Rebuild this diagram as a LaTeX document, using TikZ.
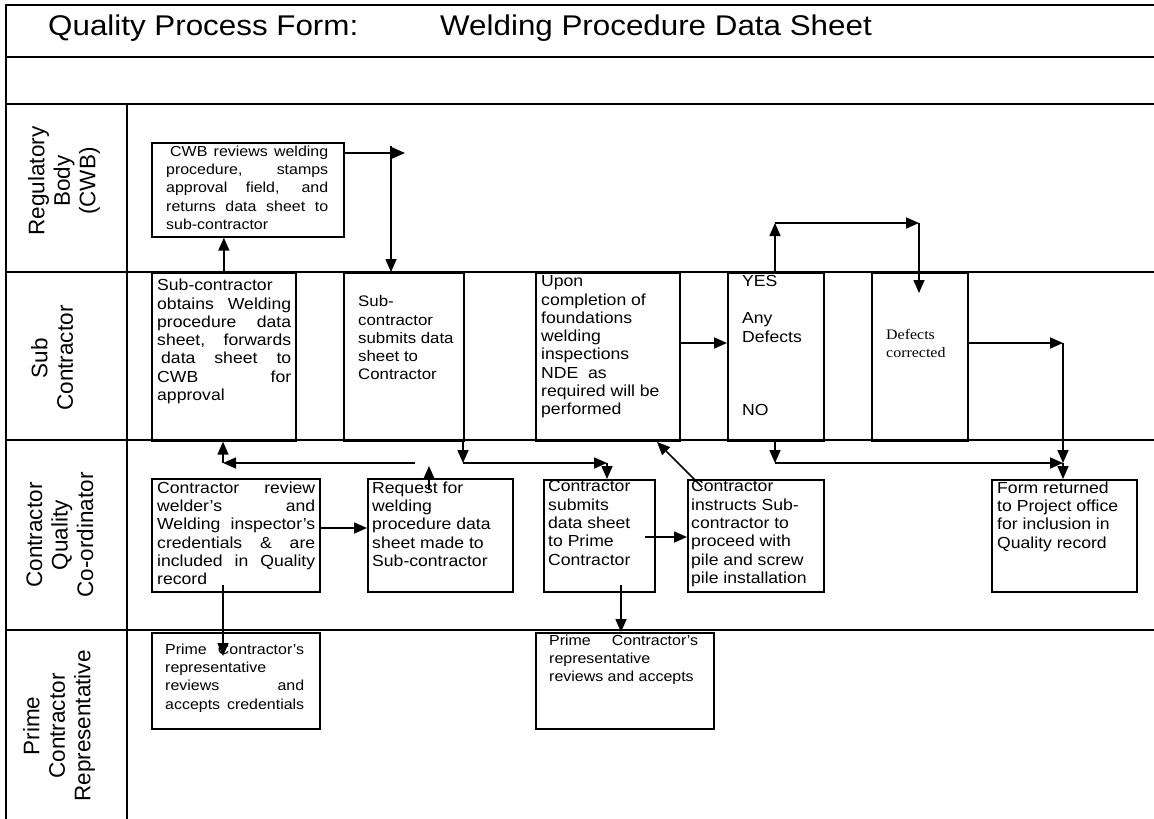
\documentclass[tikz,border=0pt]{standalone}
\usepackage{fontspec}
\setmainfont{Liberation Sans}
\newfontfamily\bodyfont{Liberation Sans}[FakeStretch=1.1]
\newfontfamily\serifbody{Liberation Serif}[FakeStretch=1.1]
\usetikzlibrary{arrows.meta}

\newcommand\bodytxt{\bodyfont\fontsize{16}{18.3}\selectfont}
\newcommand\smalltxt{\bodyfont\fontsize{14.5}{18.3}\selectfont}
\newcommand\midtxt{\bodyfont\fontsize{15.3}{18.3}\selectfont}
\newcommand\titletxt{\bodyfont\fontsize{28.5}{32}\selectfont}
\newcommand\lanetxt{\fontsize{22.5}{25.5}\selectfont}
\newcommand\serifbox{\serifbody\fontsize{14.5}{17.7}\selectfont}
% a line spread out to a given width
\newcommand\jst[2]{\makebox[#1][s]{#2}}

\tikzset{
  lane/.style={line width=2pt},
  fbox/.style={draw, line width=1.7pt, anchor=north west, inner sep=0pt},
  txt/.style={anchor=north west, inner sep=0pt, align=left, font=\bodytxt},
  stxt/.style={txt, font=\smalltxt},
  flow/.style={line width=1.6pt, -{Triangle[length=13pt,width=11pt]}},
}

\begin{document}
\begin{tikzpicture}[x=1pt,y=-1pt]
\useasboundingbox (0,0) rectangle (1154,819);

% form grid
\draw[lane] (1154,5) -- (6,5) -- (6,819);
\draw[lane] (6,57) -- (1154,57);
\draw[lane] (6,104) -- (1154,104);
\draw[lane] (127,104) -- (127,819);
\draw[lane] (6,272) -- (1154,272);
\draw[lane] (6,440) -- (1154,440);
\draw[lane] (6,630) -- (1154,630);

% title
\node[anchor=base west, inner sep=0pt, font=\titletxt] (t1) at (48,35) {Quality Process Form:};
\node[anchor=base west, inner sep=0pt, font=\titletxt] (t2) at (440,35) {Welding Procedure Data Sheet};

% lane labels
\node[rotate=90, align=center, font=\lanetxt] (lreg) at (64,181) {Regulatory\\Body\\(CWB)};
\node[rotate=90, align=center, font=\lanetxt] (lsub) at (52,358) {Sub\\Contractor};
\node[rotate=90, align=center, font=\lanetxt] (lcq) at (60,535) {Contractor\\Quality\\Co-ordinator};
\node[rotate=90, align=center, font=\lanetxt] (lpr) at (59,726) {Prime\\Contractor\\Representative};

% boxes
\node[fbox, minimum width=192pt, minimum height=94pt] (cwb) at (151,142) {};
\node[fbox, minimum width=144pt, minimum height=168pt] (s1) at (151,272) {};
\node[fbox, minimum width=120pt, minimum height=168pt] (s2) at (343,272) {};
\node[fbox, minimum width=144pt, minimum height=168pt] (s3) at (535,272) {};
\node[fbox, minimum width=96pt, minimum height=168pt] (s4) at (727,272) {};
\node[fbox, minimum width=96pt, minimum height=168pt] (s5) at (871,272) {};
\node[fbox, minimum width=168pt, minimum height=113pt] (c1) at (151,478) {};
\node[fbox, minimum width=145pt, minimum height=113pt] (c2) at (367,478) {};
\node[fbox, minimum width=111pt, minimum height=112pt] (c3) at (543,479) {};
\node[fbox, minimum width=136pt, minimum height=112pt] (c4) at (687,479) {};
\node[fbox, minimum width=145pt, minimum height=112pt] (c5) at (991,479) {};
\node[fbox, minimum width=168pt, minimum height=96pt] (p1) at (151,632) {};
\node[fbox, minimum width=178pt, minimum height=96pt] (p2) at (535,632) {};

% box texts
\node[stxt] (cwbt) at (166,145.5) {\hspace*{4pt}\jst{158pt}{CWB reviews welding}\\
  \jst{162pt}{procedure, stamps}\\ \jst{162pt}{approval field, and}\\
  \jst{162pt}{returns data sheet to}\\ sub-contractor};
\node[txt] (s1t) at (157,279) {Sub-contractor\\ \jst{134pt}{obtains Welding}\\
  \jst{134pt}{procedure data}\\ \jst{134pt}{sheet, forwards}\\
  \hspace*{4pt}\jst{130pt}{data sheet to}\\ \jst{134pt}{CWB for}\\ approval};
\node[txt, font=\midtxt] (s2t) at (358,295.5) {Sub-\\contractor\\submits data\\sheet to\\Contractor};
\node[txt] (s3t) at (541,275.5) {Upon\\completion of\\foundations\\welding\\inspections\\NDE\ \ as\\required will be\\performed};
\node[txt] (s4yes) at (742,275.5) {YES};
\node[txt] (s4q) at (742,312.5) {Any\\Defects};
\node[txt] (s4no) at (742,404.5) {NO};
\node[txt, font=\serifbox] (s5t) at (886,329.5) {Defects\\corrected};
\node[txt] (c1t) at (157,481.5) {\jst{158pt}{Contractor review}\\ \jst{158pt}{welder’s and}\\
  \jst{158pt}{Welding inspector’s}\\ \jst{158pt}{credentials \& are}\\
  \jst{158pt}{included in Quality}\\ record};
\node[txt] (c2t) at (372,481.5) {Request for\\welding\\procedure data\\sheet made to\\Sub-contractor};
\node[txt] (c3t) at (548,480.5) {Contractor\\submits\\data sheet\\to Prime\\Contractor};
\node[txt] (c4t) at (691,480.5) {Contractor\\instructs Sub-\\contractor to\\proceed with\\pile and screw\\pile installation};
\node[txt] (c5t) at (997,481.5) {Form returned\\to Project office\\for inclusion in\\Quality record};
\node[stxt] (p1t) at (165,643.5) {\jst{139pt}{Prime Contractor’s}\\ representative\\
  \jst{139pt}{reviews and}\\ \jst{139pt}{accepts credentials}};
\node[stxt] (p2t) at (549,634.5) {\jst{149pt}{Prime Contractor’s}\\ representative\\ reviews and accepts};

% bend points and free ends of connectors
\coordinate (cwbOut) at (405,153);
\coordinate (toS2) at (391,146);
\coordinate (midS) at (0,343);
\coordinate (yesUp) at (775,223);
\coordinate (yesTurn) at (919,223);
\coordinate (fixJoin) at (1063,343);
\coordinate (endRow) at (1063,463);
\coordinate (noTurn) at (775,463);
\coordinate (reqUp) at (429,490);
\coordinate (backStart) at (415,463);
\coordinate (backEnd) at (223,463);
\coordinate (subTurn) at (463,463);
\coordinate (subEnd) at (607,463);
\coordinate (instrStart) at (702,487);
\coordinate (instrEnd) at (657,442);
\coordinate (rowC1) at (0,528);
\coordinate (rowC3) at (645,537);
\coordinate (c3Down) at (621,585);
\coordinate (c1Down) at (223,585);

% connectors
\draw[flow] (s1.north) -- (s1.north |- cwb.south);
\draw[flow] (cwb.east |- cwbOut) -- (cwbOut);
\draw[flow] (toS2) -- (toS2 |- s2.north);
\draw[flow] (s3.east |- midS) -- (s4.west |- midS);
\draw[flow] (yesUp |- s4.north) -- (yesUp);
\draw[flow] (yesUp) -- (yesTurn);
\draw[flow] (yesTurn) -- (yesTurn |- 0,293);
\draw[flow] (s5.east |- midS) -- (fixJoin);
\draw[flow] (fixJoin) -- (endRow);
\draw[flow] (endRow) -- (endRow |- c5.north);
\draw[flow] (noTurn |- s4.south) -- (noTurn);
\draw[flow] (noTurn) -- (endRow);
\draw[flow] (reqUp) -- (reqUp |- 0,466);
\draw[flow] (backStart) -- (backEnd);
\draw[flow] (backEnd) -- (backEnd |- s1.south);
\draw[flow] (subTurn |- s2.south) -- (subTurn);
\draw[flow] (subTurn) -- (subEnd);
\draw[flow] (subEnd) -- (subEnd |- c3.north);
\draw[flow] (instrStart) -- (instrEnd);
\draw[flow] (c1.east |- rowC1) -- (c2.west |- rowC1);
\draw[flow] (rowC3) -- (c4.west |- rowC3);
\draw[flow] (c3Down) -- (c3Down |- p2.north);
\draw[flow] (c1Down) -- (c1Down |- 0,656);
\end{tikzpicture}
\end{document}
